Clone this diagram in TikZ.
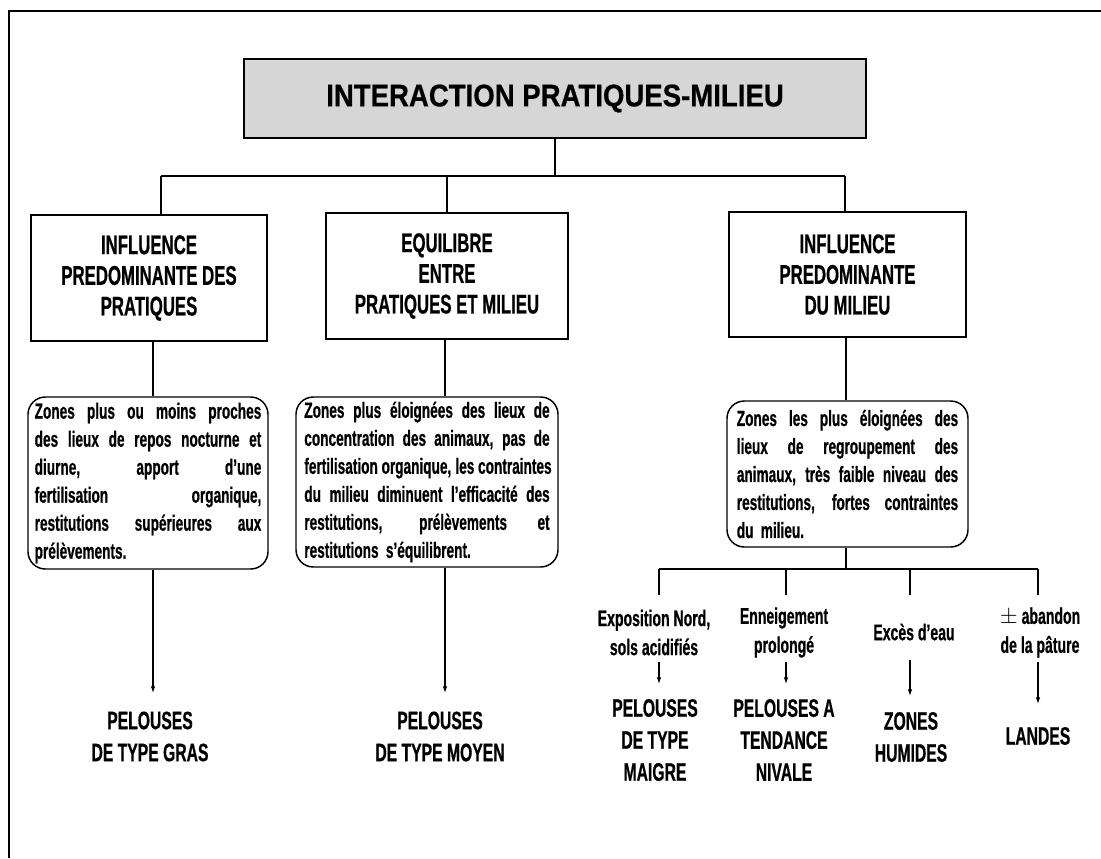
\documentclass[tikz,border=0pt]{standalone}
\usepackage{fontspec}
\setmainfont{Liberation Sans}
\newfontfamily\condfont{Liberation Sans}[FakeStretch=0.62, BoldFeatures={FakeBold=0.6}]
\newfontfamily\titlefont{Liberation Sans}[FakeStretch=0.88, BoldFeatures={FakeBold=0.6}]
\usetikzlibrary{arrows.meta}

% justified and last lines of a zone description
\newcommand{\jline}[1]{\noindent\hbox to\hsize{\spaceskip=0.25em plus 1fil minus 0.08em\relax #1}\par}
\newcommand{\lastline}[1]{\noindent #1\par}

\tikzset{
  frame/.style={line width=2pt},
  link/.style={line width=0.8pt},
  arr/.style={link, -{Latex[length=5pt,width=3.4pt]}},
  titlebox/.style={draw, line width=1.6pt, fill=black!16, inner sep=0,
    font=\titlefont\bfseries\fontsize{23.5}{26}\selectfont},
  headbox/.style={draw, line width=1.5pt, inner sep=0, align=center,
    font=\condfont\bfseries\fontsize{20.3}{23}\selectfont},
  zonebox/.style={draw, line width=1.1pt, rounded corners=13pt, inner sep=0,
    font=\condfont\bfseries\fontsize{16.5}{21}\selectfont},
  cause/.style={align=center, inner sep=0,
    font=\condfont\bfseries\fontsize{17}{21.75}\selectfont},
  result/.style={align=center, inner sep=0,
    font=\condfont\bfseries\fontsize{19}{24}\selectfont},
}

\begin{document}
\begin{tikzpicture}[x=0.75pt,y=-0.75pt]
\useasboundingbox (0,0) rectangle (1101,858);

% open outer frame
\draw[frame] (9,858) -- (9,11) -- (1101,11);

% title
\node[titlebox, minimum width=466.5pt, minimum height=59.25pt] (title) at (555,98.5)
  {INTERACTION PRATIQUES-MILIEU};

% three main headings
\node[headbox, minimum width=177pt, minimum height=94.5pt] (b1) at (149,278)
  {INFLUENCE\\PREDOMINANTE DES\\PRATIQUES};
\node[headbox, minimum width=181.5pt, minimum height=94.5pt] (b2) at (447,276)
  {EQUILIBRE\\ENTRE\\PRATIQUES ET MILIEU};
\node[headbox, minimum width=177.75pt, minimum height=93.75pt] (b3) at (847.5,274.5)
  {INFLUENCE\\PREDOMINANTE\\DU MILIEU};

% zone descriptions
\node[zonebox, minimum width=180pt, minimum height=129pt, text width=170pt] (z1) at (148,483) {%
  \jline{Zones plus ou moins proches}
  \jline{des lieux de repos nocturne et}
  \jline{diurne, apport d’une}
  \jline{fertilisation organique,}
  \jline{restitutions supérieures aux}
  \lastline{prélèvements.}};
\node[zonebox, minimum width=196.5pt, minimum height=127.5pt, text width=184pt] (z2) at (427,482) {%
  \jline{Zones plus éloignées des lieux de}
  \jline{concentration des animaux, pas de}
  \jline{fertilisation organique, les contraintes}
  \jline{du milieu diminuent l’efficacité des}
  \jline{restitutions, prélèvements et}
  \lastline{restitutions s’équilibrent.}};
\node[zonebox, minimum width=180.75pt, minimum height=109.5pt, text width=166pt] (z3) at (847.5,474) {%
  \jline{Zones les plus éloignées des}
  \jline{lieux de regroupement des}
  \jline{animaux, très faible niveau des}
  \jline{restitutions, fortes contraintes}
  \lastline{du milieu.}};

% environmental causes
\node[cause] (t1) at (654,632.5) {Exposition Nord,\\sols acidifiés};
\node[cause] (t2) at (784,632.5) {Enneigement\\prolongé};
\node[cause] (t3) at (914,632) {Excès d’eau};
\node[cause] (t4) at (1040,632.5) {$\pm$ abandon\\de la pâture};

% resulting vegetation types
\node[result] (p1) at (150,736.5) {PELOUSES\\DE TYPE GRAS};
\node[result] (p2) at (440,736.5) {PELOUSES\\DE TYPE MOYEN};
\node[result] (p3) at (655,740) {PELOUSES\\DE TYPE\\MAIGRE};
\node[result] (p4) at (784,740) {PELOUSES A\\TENDANCE\\NIVALE};
\node[result] (p5) at (911,737) {ZONES\\HUMIDES};
\node[result] (p6) at (1038,736) {LANDES};

% title to headings
\coordinate (barL) at (161,176);
\coordinate (barM) at (447,176);
\coordinate (barR) at (845,176);
\draw[link] (title.south) -- (title.south |- barM);
\draw[link] (barL) -- (barR);
\draw[link] (barL) -- (barL |- b1.north);
\draw[link] (barM) -- (barM |- b2.north);
\draw[link] (barR) -- (barR |- b3.north);

% headings to zone descriptions and outcomes
\coordinate (c1) at (153,693);
\coordinate (c2) at (445,693);
\coordinate (c3) at (846,569);
\draw[link] (b1.south -| c1) -- (z1.north -| c1);
\draw[link] (b2.south -| c2) -- (z2.north -| c2);
\draw[link] (b3.south -| c3) -- (z3.north -| c3);
\draw[arr] (z1.south -| c1) -- (c1);
\draw[arr] (z2.south -| c2) -- (c2);
\draw[link] (z3.south -| c3) -- (c3);

% branching under the third zone
\coordinate (s1) at (659,569);
\coordinate (s2) at (786,569);
\coordinate (s3) at (910,569);
\coordinate (s4) at (1038,569);
\draw[link] (s1) -- (s4);
\foreach \s in {s1,s2,s3,s4}
  \draw[link] (\s) -- ++(0,26);

% causes to outcomes
\coordinate (a1) at (659,662);  \coordinate (e1) at (659,684);
\coordinate (a2) at (786,662);  \coordinate (e2) at (786,684);
\coordinate (a3) at (910,660);  \coordinate (e3) at (910,696);
\coordinate (a4) at (1038,662); \coordinate (e4) at (1038,704);
\draw[arr] (a1) -- (e1);
\draw[arr] (a2) -- (e2);
\draw[arr] (a3) -- (e3);
\draw[arr] (a4) -- (e4);
\end{tikzpicture}
\end{document}
